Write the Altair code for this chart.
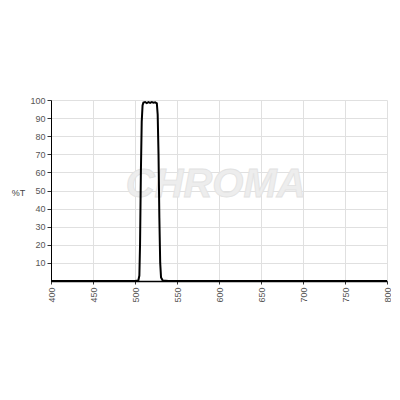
import altair as alt
import pandas as pd

wavelength = [400, 500, 504, 505.2, 506, 507, 508, 509, 510, 512, 514, 516, 518, 520, 522, 524, 526, 527, 528, 529, 530, 531, 533, 540, 800]
transmission = [0, 0, 0.3, 3, 20, 60, 88, 97, 98.6, 98.9, 98.3, 98.8, 98.4, 98.9, 98.5, 98.7, 98.2, 92, 70, 35, 10, 2, 0.3, 0, 0]

x_ticks = [400, 450, 500, 550, 600, 650, 700, 750, 800]
y_ticks = [10, 20, 30, 40, 50, 60, 70, 80, 90, 100]

df = pd.DataFrame({"wl": wavelength, "t": transmission})
wm = pd.DataFrame({"wl": [596], "t": [53], "label": ["CHROMA"]})

FONT = "Liberation Sans"

x = alt.X("wl:Q", scale=alt.Scale(domain=[400, 800], nice=False),
          axis=alt.Axis(values=x_ticks, title=None, labelAngle=270, grid=True,
                        gridColor="#e0e0e0", tickColor="#333", tickSize=3,
                        domainColor="#000", domainWidth=1.5, labelFontSize=9,
                        labelColor="#555", labelFont=FONT, labelPadding=3,
                        labelOverlap=False, labelBound=False, labelFlush=False))
y = alt.Y("t:Q", scale=alt.Scale(domain=[0, 100], nice=False),
          axis=alt.Axis(values=y_ticks, title="%T", titleAngle=0, titleX=-33, titleY=92,
                        titleAlign="center", titleBaseline="middle", titleFontSize=9,
                        titleFontWeight="normal", titleColor="#444", titleFont=FONT,
                        grid=True, gridColor="#e0e0e0", tickColor="#333", tickSize=4,
                        domainColor="#000", labelFontSize=9, labelColor="#555",
                        labelFont=FONT, labelPadding=2,
                        labelOverlap=False, labelBound=False, labelFlush=False))

watermark = alt.Chart(wm).mark_text(
    text="CHROMA", font=FONT, fontSize=40, fontStyle="italic", fontWeight="bold",
    color="#ededed", stroke="#e2e2e2", strokeWidth=0.8, align="center", baseline="middle"
).encode(x=x, y=y)

line = alt.Chart(df).mark_line(color="#000", strokeWidth=2).encode(x=x, y=y)

chart = alt.layer(watermark, line).properties(
    width=336, height=181,
    autosize=alt.AutoSizeParams(type="none"),
    padding={"left": 43, "top": 92, "right": 4, "bottom": 60},
    background="white",
).configure_view(stroke=None)

chart.save("out.html", embed_options={"renderer": "svg", "actions": False})
